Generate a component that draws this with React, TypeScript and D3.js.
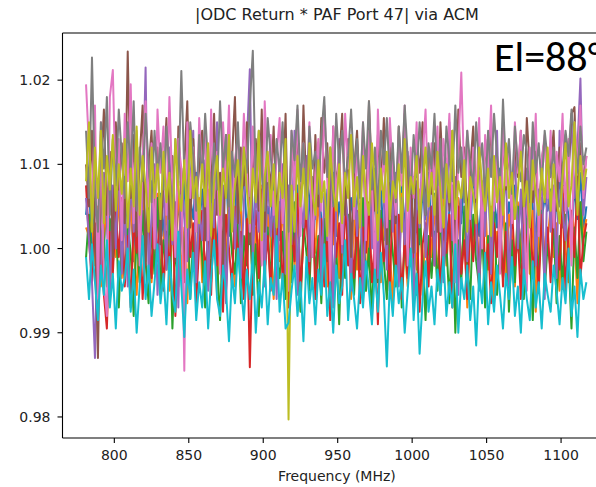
import React from "react";
import * as d3 from "d3";

// Frequency grid (MHz)
const freqStart = 781;
const freqStep = 2;
const nPoints = 169;
const freqs: number[] = d3.range(nPoints).map((i) => freqStart + i * freqStep);

// Deviations from 1.0 in units of 1e-4
const s0 = [40,80,-10,55,20,90,0,65,30,-20,75,45,10,85,25,60,-15,70,35,95,5,50,80,-5,40,65,15,75,45,100,0,55,20,85,-10,60,35,90,25,70,10,50,80,30,-5,65,40,95,15,55,75,0,45,90,20,60,5,85,35,70,-15,50,25,80,40,10,65,95,30,55,0,75,45,20,85,60,-10,50,80,35,5,70,40,90,15,55,25,75,-5,60,30,55,85,20,45,0,65,95,35,70,10,50,80,25,40,-5,75,30,60,20,85,50,5,70,35,90,15,65,25,55,95,10,45,75,0,60,30,85,40,20,90,50,15,70,35,80,5,60,25,95,45,10,55,30,75,40,0,65,20,85,50,10,70,35,60,45,70,15,55,85,25,60,40,5,75,35,90,20,50];
const s1 = [25,15,35,-20,50,-45,10,60,-60,30,-10,70,-35,40,-25,55,0,-55,20,75,-15,45,-40,10,65,-30,5,50,-50,35,-5,80,-35,25,-65,45,15,-20,60,-40,30,70,-10,40,-55,20,55,-25,65,0,-45,35,50,-30,15,60,-50,25,-5,75,-40,40,10,-60,30,-15,55,-35,20,70,-25,45,-55,15,60,-30,35,-5,65,-20,40,-45,25,5,75,-35,50,-10,30,-60,45,-25,60,10,-50,35,70,-15,40,-40,20,55,-5,-65,35,-30,65,0,-45,50,15,-25,70,-55,25,45,-10,55,-35,20,75,-20,40,-50,10,60,-30,35,-70,25,-5,45,-40,30,65,-25,50,-60,20,5,70,-35,40,15,-45,55,-15,35,75,-30,45,-75,25,60,-20,10,50,-10,30,-50,65,0,-40,45,20,-65,55,15,35];
const s2 = [-11,40,-30,25,-60,70,10,-45,35,-20,55,-70,15,-35,30,-5,-80,20,-40,45,-15,-65,25,-30,60,-50,10,-25,50,-95,5,-45,35,-20,65,-60,15,-35,40,-10,-70,30,-40,55,-15,-85,20,-50,45,-5,-30,35,-65,15,-20,40,-55,5,-80,50,-25,25,-45,60,-10,-35,20,-60,10,-40,55,-20,-75,30,-5,-50,45,-30,15,-65,35,-15,50,-45,5,-90,25,-35,40,-10,-55,30,-25,60,-50,0,-80,20,-40,45,-15,-60,35,-5,-45,25,-70,10,-30,55,-20,-55,40,-10,-85,15,-35,20,-50,45,-25,5,-65,35,-100,10,-40,50,-20,-60,40,-15,-45,25,-70,15,-30,55,-55,0,-35,30,-75,10,-40,50,-20,-60,35,-5,-85,20,-30,45,-50,5,-25,30,-65,15,-45,40,-10,-95,25,-35,55,-15,20];
const s3 = [75,10,-40,30,-20,5,-55,-95,20,-30,45,-10,60,-45,15,-70,35,-5,50,-60,0,25,-35,70,-15,40,-50,20,-25,55,-80,10,35,-40,65,-10,30,-65,5,45,-30,15,-55,60,-20,25,-75,40,0,-45,50,-15,20,-60,35,-141,10,45,-35,70,-25,15,-50,30,-5,55,-40,5,-70,25,-15,65,-50,10,40,-30,80,-60,0,35,-45,20,-85,50,-10,30,-55,60,-20,15,-35,45,-65,25,-5,55,-40,10,-90,35,-15,20,-50,70,-25,40,-60,15,-35,65,-10,45,-75,5,30,-45,50,-20,60,-55,25,-5,40,-70,15,50,-30,10,-60,35,-15,45,-40,70,-25,5,-65,30,-10,55,-45,20,-35,50,-20,15,-60,35,-5,65,-30,10,-50,40,-15,25,-40,55,0,-25,75,-55,20,45,-10,85,-35,10,30];
const s4 = [60,10,-40,-130,45,-20,90,30,-60,75,0,110,-30,50,-45,85,20,130,-10,65,215,-35,40,100,-55,25,70,-25,120,5,55,-70,95,35,-15,80,140,-40,45,10,105,-50,65,25,150,-20,75,-65,40,115,0,85,-35,55,125,213,-10,70,20,135,-45,90,15,60,-60,45,100,-30,75,5,140,-55,60,25,110,-15,85,35,120,-40,65,10,95,-70,50,130,-5,70,30,-50,105,15,85,-60,45,125,0,75,-35,100,55,-25,140,20,90,-45,60,5,115,35,-65,80,25,130,-10,50,95,-20,70,110,-40,40,150,10,85,-55,65,100,-15,55,125,30,-50,80,15,105,-30,60,140,-5,45,90,-45,60,115,0,70,-40,95,35,130,-20,55,85,-60,100,20,75,-35,140,45,10,90,150,60,120,202,40,85];
const s5 = [100,50,140,20,-130,90,165,40,115,-10,150,70,125,30,234,60,135,15,105,170,-20,95,140,45,120,5,85,155,35,110,-15,145,65,100,175,25,130,55,95,140,10,115,70,160,40,90,-25,135,60,105,180,30,120,75,150,5,95,130,45,165,20,110,70,145,35,100,55,160,-15,125,80,140,30,170,65,115,10,135,50,155,90,125,20,145,75,105,160,40,130,-10,95,140,60,115,25,175,85,45,135,70,155,5,120,95,30,145,80,160,55,110,-5,130,90,150,40,115,65,125,20,150,75,105,45,140,10,165,85,120,35,95,145,55,110,25,130,80,150,60,100,15,135,70,120,40,125,85,140,30,155,95,55,115,20,105,130,65,100,140,45,120,75,135,90,160,168,55,125,80,110];
const s6 = [195,120,40,170,-60,150,-40,-80,180,212,60,130,10,160,80,195,30,140,-20,110,175,50,125,0,165,90,145,40,180,70,-10,130,95,-145,150,60,120,20,155,85,140,10,165,60,115,-30,150,75,170,30,105,135,50,160,90,20,145,65,120,-20,175,80,135,40,110,155,30,100,-50,140,70,165,15,125,55,150,-10,90,130,45,170,80,-40,145,60,115,5,160,95,135,35,120,55,150,10,140,85,-30,165,70,110,25,155,90,40,135,75,170,-20,120,60,150,30,105,165,50,125,70,145,20,130,90,160,55,-40,115,209,80,140,35,120,60,155,0,135,85,170,45,110,-30,145,75,125,30,150,90,140,55,-50,120,70,160,15,105,135,60,140,25,115,80,160,45,130,-20,150,95,170,60,110];
const s7 = [140,60,227,70,20,150,95,180,40,130,75,165,110,60,150,90,175,45,120,80,160,100,55,140,85,125,70,145,95,40,130,75,211,90,60,150,110,45,135,80,160,100,55,125,70,175,95,135,50,115,85,150,60,120,90,170,235,75,140,95,45,155,110,70,130,90,150,60,20,140,105,170,80,125,55,145,95,115,65,135,180,85,120,50,160,100,140,75,110,165,90,130,60,150,95,175,70,120,45,140,100,155,80,125,55,145,90,170,110,65,135,85,150,100,40,125,95,160,75,130,60,145,105,80,170,90,120,55,140,100,75,150,95,125,60,140,85,160,110,70,177,95,130,65,145,100,80,135,115,55,150,90,125,70,140,105,85,120,60,50,95,140,110,165,130,90,145,100,120];
const s8 = [80,150,20,120,60,140,30,110,70,135,45,100,65,130,25,95,50,145,40,110,75,20,120,60,100,35,115,55,90,10,130,70,45,105,25,140,60,85,30,100,50,125,15,80,110,40,95,60,135,20,75,105,45,120,70,30,95,55,140,10,85,115,50,100,25,90,60,130,-203,75,20,110,50,95,35,125,65,40,105,55,80,15,120,70,45,100,30,90,60,135,50,85,25,110,65,40,125,75,10,95,55,115,35,80,60,100,20,130,45,85,65,110,30,75,120,50,90,40,115,70,25,100,55,140,35,80,60,105,20,85,65,30,120,75,45,95,15,110,55,85,40,125,60,90,35,70,115,50,80,25,105,65,40,95,55,120,45,100,60,30,85,125,50,75,150,40,110,70,95];
const s9 = [-10,-60,5,-40,-85,-20,-55,10,-70,-30,-95,-15,-50,-35,0,-75,-25,-100,-45,15,-60,-20,-80,-40,5,-65,-30,-90,-10,-55,-75,20,-45,-105,-25,-60,-5,-85,-40,-70,-15,-95,-35,10,-60,-80,-20,-50,-110,-30,-65,0,-45,-85,-25,-60,-5,-100,-40,-70,-15,-90,-35,-55,15,-75,-30,-95,-88,-50,-20,-80,-40,-110,-10,-65,-35,-90,-25,-55,5,-80,-40,-100,-20,-65,-45,10,-85,-30,-60,-95,-35,-70,-15,-50,-90,-25,-75,-5,-55,-140,-40,-80,-20,-65,-35,-100,-50,0,-85,-30,-125,-60,-15,-75,-45,-90,-25,-55,-10,-80,-40,-70,5,-100,-35,-60,-20,-85,-45,-115,-30,-65,-5,-90,-40,-75,-20,-55,-95,-30,-60,-10,-80,-45,-100,-25,-60,-85,-15,-70,-40,-95,-30,-55,-75,-20,-50,-90,-35,-65,0,-80,-45,-105,-25,-60,-40];

const seriesDev = [s0, s1, s2, s3, s4, s5, s6, s7, s8, s9];
const seriesColors = ["#1f77b4","#ff7f0e","#2ca02c","#d62728","#9467bd","#8c564b","#e377c2","#7f7f7f","#bcbd22","#17becf"];

const xTicks = [800, 850, 900, 950, 1000, 1050, 1100];
const yTicks = [0.98, 0.99, 1.0, 1.01, 1.02];

const titleText = "|ODC Return * PAF Port 47| via ACM";
const xLabelText = "Frequency (MHz)";
const annotText = "El=88°";

export default function App() {
  const W = 596, H = 487;
  const left = 62.5, right = 611.4, top = 33, bottom = 438;
  const x = d3.scaleLinear().domain([765.2, 1133.8]).range([left, right]);
  const y = d3.scaleLinear().domain([0.9775, 1.0256]).range([bottom, top]);
  const line = d3.line<number>()
    .x((_, i) => x(freqs[i]))
    .y((d) => y(1 + d / 10000));
  const font = "'DejaVu Sans', sans-serif";
  return (
    <svg width={W} height={H} style={{ position: "absolute", left: 0, top: 0, background: "#fff" }}>
      <rect x={0} y={0} width={W} height={H} fill="#fff" />
      <g>
        {seriesDev.map((s, k) => (
          <path key={k} d={line(s) || ""} fill="none" stroke={seriesColors[k]} strokeWidth={2} strokeLinejoin="round" />
        ))}
      </g>
      {/* spines */}
      <line x1={left} x2={left} y1={top} y2={bottom} stroke="#000" strokeWidth={1.1} />
      <line x1={left} x2={right} y1={bottom} y2={bottom} stroke="#000" strokeWidth={1.1} />
      <line x1={left} x2={right} y1={top} y2={top} stroke="#000" strokeWidth={1.1} />
      <line x1={right} x2={right} y1={top} y2={bottom} stroke="#000" strokeWidth={1.1} />
      {xTicks.map((t) => (
        <g key={t}>
          <line x1={x(t)} x2={x(t)} y1={bottom} y2={bottom + 5} stroke="#000" strokeWidth={1.1} />
          <text x={x(t)} y={bottom + 22} textAnchor="middle" fontFamily={font} fontSize={14} fill="#222">{t}</text>
        </g>
      ))}
      {yTicks.map((t) => (
        <g key={t}>
          <line x1={left - 5} x2={left} y1={y(t)} y2={y(t)} stroke="#000" strokeWidth={1.1} />
          <text x={left - 12} y={y(t) + 5} textAnchor="end" fontFamily={font} fontSize={14} fill="#222">{t.toFixed(2)}</text>
        </g>
      ))}
      <text x={(left + right) / 2} y={20} textAnchor="middle" fontFamily={font} fontSize={16} fill="#222">{titleText}</text>
      <text x={(left + right) / 2} y={481} textAnchor="middle" fontFamily={font} fontSize={14} fill="#222">{xLabelText}</text>
      <text x={494} y={71} fontFamily="Carlito, Lato, 'Open Sans', sans-serif" fontSize={42} fill="#000">{annotText}</text>
    </svg>
  );
}
